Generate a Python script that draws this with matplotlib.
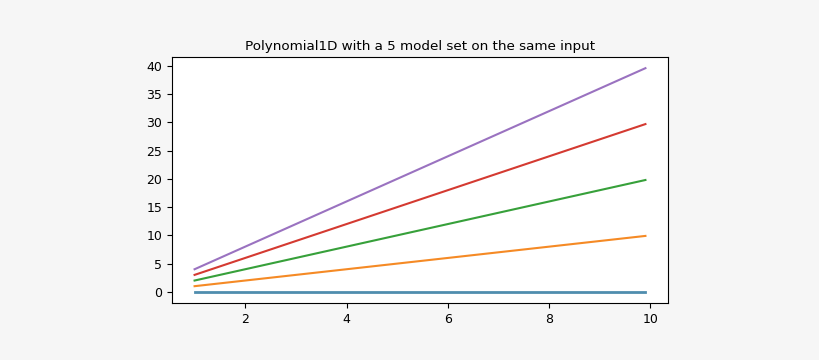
import matplotlib
matplotlib.use("Agg")
import matplotlib.pyplot as plt

x_ends = [1.0, 9.9]
series = {
    "c1=0": [0.0, 0.0],
    "c1=1": [1.0, 9.9],
    "c1=2": [2.0, 19.8],
    "c1=3": [3.0, 29.7],
    "c1=4": [4.0, 39.6],
}
colors = ["#4f8dae", "#f58a25", "#37a03a", "#d43a31", "#9a72c0"]
widths = [2.0, 1.5, 1.5, 1.5, 1.5]

fig = plt.figure(figsize=(8.2, 3.6), dpi=100, facecolor="#f6f6f6")
ax = fig.add_axes([0.2098, 0.1583, 0.6048, 0.6834])
for (name, ys), c, lw in zip(series.items(), colors, widths):
    ax.plot(x_ends, ys, color=c, lw=lw)
ax.set_title("Polynomial1D with a 5 model set on the same input", fontsize=9.7, pad=5)
ax.set_xticks([2, 4, 6, 8, 10])
ax.set_yticks([0, 5, 10, 15, 20, 25, 30, 35, 40])
ax.tick_params(labelsize=9)
fig.savefig("out.png", dpi=100, facecolor=fig.get_facecolor())
